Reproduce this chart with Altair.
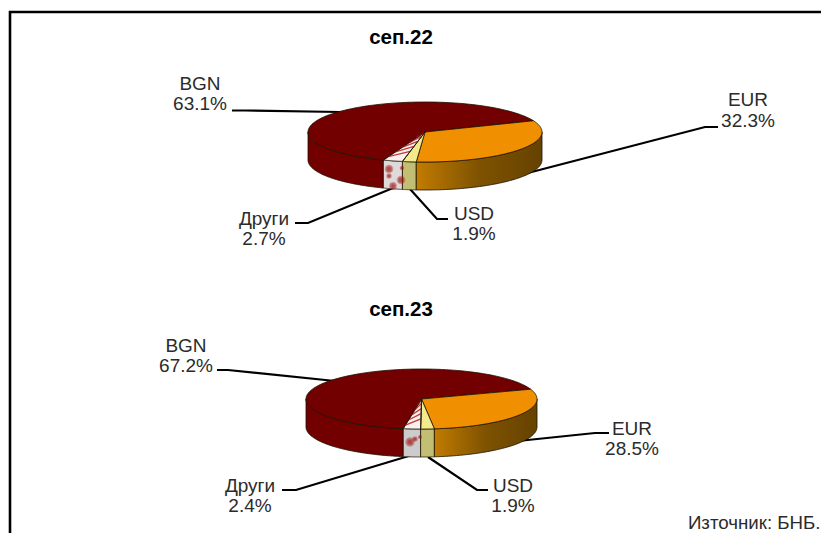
import numpy as np
import pandas as pd
import altair as alt

# ---- data ----
categories = ["EUR", "USD", "Други", "BGN"]
shares_sep22 = [32.3, 1.9, 2.7, 63.1]
shares_sep23 = [28.5, 1.9, 2.4, 67.2]
titles = ["сеп.22", "сеп.23"]
source_note = "Източник: БНБ."

# ---- layout (page pixels) ----
W, H = 821, 533
FONT = "Liberation Sans"
pies = [
    dict(vals=shares_sep22, cx=425, cy=132, rx=117, ry=30, depth=28, start=22, title_y=38,
         lab={"BGN": (200, 83.5), "EUR": (748, 100), "Други": (264, 218.5), "USD": (474, 213.5)},
         lead={"BGN": [(232, 110.5), (245, 110.5), (340, 112)],
               "EUR": [(718, 127), (705, 127), (520, 175)],
               "Други": [(295, 223), (308, 223), (393, 188)],
               "USD": [(448, 219), (437, 219), (410, 189)]},
         blots=[(389, 169, 34), (401, 180, 34), (393, 186, 28), (389, 176, 14), (402, 168, 10)]),
    dict(vals=shares_sep23, cx=421.5, cy=399, rx=115.5, ry=30, depth=28, start=19, title_y=310,
         lab={"BGN": (186, 345.5), "EUR": (632, 428.5), "Други": (250, 485.5), "USD": (513, 485.5)},
         lead={"BGN": [(217, 370), (228, 370), (335, 381)],
               "EUR": [(609, 433), (595, 433), (518, 441)],
               "Други": [(282, 490), (296, 490), (412, 455)],
               "USD": [(488, 490), (477, 490), (428, 457)]},
         blots=[(410, 442, 40), (415, 439, 14), (420, 437, 8)]),
]

TOP = {"EUR": "#F09000", "USD": "#F2EA8C", "Други": "#FBF0F0", "BGN": "#730000"}
SIDE = {"USD": "#C2BE74", "BGN": "#720000"}
OTHER_SIDE = ["#DEDADA", "#CCCCCC"]
EUR_SIDE = alt.LinearGradient(
    gradient="linear", x1=0, x2=1, y1=0, y2=0,
    stops=[alt.GradientStop(color="#C27C00", offset=0),
           alt.GradientStop(color="#7E5200", offset=0.5),
           alt.GradientStop(color="#664200", offset=1)])
TEXT = "#2B2B2B"

xs = alt.Scale(domain=[8, W], range=[0, W - 8])
ys = alt.Scale(domain=[8, H], range=[0, H - 8])
X = alt.X("x:Q", scale=xs, axis=None)
Y = alt.Y("y:Q", scale=ys, axis=None)


def ell(p, deg, dy=0.0):
    t = np.radians(deg)
    return p["cx"] + p["rx"] * np.cos(t), p["cy"] - p["ry"] * np.sin(t) + dy


def shape(points, fill, stroke="#1a1200", sw=0.8):
    pts = list(points) + [points[0]]
    df = pd.DataFrame({"x": [a for a, _ in pts], "y": [b for _, b in pts], "i": range(len(pts))})
    return alt.Chart(df).mark_line(fill=fill, stroke=stroke, strokeWidth=sw, interpolate="linear").encode(
        x=X, y=Y, order="i:Q")


def polyline(points, color="#000000", sw=2.2):
    df = pd.DataFrame({"x": [a for a, _ in points], "y": [b for _, b in points], "i": range(len(points))})
    return alt.Chart(df).mark_line(color=color, strokeWidth=sw, interpolate="linear").encode(
        x=X, y=Y, order="i:Q")


layers = []
# frame
layers.append(polyline([(10, H), (10, 12), (W, 12)], sw=2.6))

for n, p in enumerate(pies):
    bounds = {}
    a = p["start"]
    for c, v in zip(categories, p["vals"]):
        b = a - v * 3.6
        bounds[c] = (a, b)
        a = b

    # leader lines (under the pie)
    for c in categories:
        layers.append(polyline(p["lead"][c]))

    # side walls: only the front half (-180..0 degrees) shows
    for c in ["BGN", "Други", "USD", "EUR"]:
        a, b = bounds[c]
        hi, lo = min(a, 0), max(b, -180)
        ts = np.linspace(hi, lo, 60)
        up = [ell(p, t) for t in ts]
        dn = [ell(p, t, p["depth"]) for t in ts[::-1]]
        fill = EUR_SIDE if c == "EUR" else (OTHER_SIDE[n] if c == "Други" else SIDE[c])
        layers.append(shape(up + dn, fill))

    # soft texture blots on the side of "Други"
    for k in (2.2, 1.2, 0.5):
        bl = pd.DataFrame(p["blots"], columns=["x", "y", "s"])
        bl["s"] = bl["s"] * k
        layers.append(alt.Chart(bl).mark_circle(color="#A01010", opacity=0.33).encode(
            x=X, y=Y, size=alt.Size("s:Q", scale=None, legend=None)))

    # top faces
    apex = (p["cx"], p["cy"])
    for c in ["BGN", "EUR", "USD", "Други"]:
        a, b = bounds[c]
        ts = np.linspace(a, b, 120)
        layers.append(shape([apex] + [ell(p, t) for t in ts], TOP[c]))

    # hatch on top of "Други"
    a, b = bounds["Други"]
    P1, P2 = np.array(ell(p, a)), np.array(ell(p, b))
    A = np.array(apex)
    for f in np.arange(0.2, 1.0, 0.17):
        s = A + (P2 - A) * f
        e = A + (P1 - A) * max(f - 0.22, 0.02)
        layers.append(polyline([tuple(s), tuple(e)], color="#C23A3A", sw=1.3))

    layers.append(polyline([apex, ell(p, a)], color="#1a1200", sw=0.8))
    layers.append(polyline([apex, ell(p, b)], color="#1a1200", sw=0.8))

    # labels
    rows = []
    for c, v in zip(categories, p["vals"]):
        lx, ly = p["lab"][c]
        rows.append(dict(x=lx, y=ly, t=c))
        rows.append(dict(x=lx, y=ly + 20.5, t=f"{v}%"))
    layers.append(alt.Chart(pd.DataFrame(rows)).mark_text(font=FONT, fontSize=19, color=TEXT).encode(
        x=X, y=Y, text="t:N"))

    # title
    layers.append(alt.Chart(pd.DataFrame([dict(x=401, y=p["title_y"], t=titles[n])])).mark_text(
        font=FONT, fontSize=20.5, fontWeight="bold", color="#000000").encode(x=X, y=Y, text="t:N"))

# source
layers.append(alt.Chart(pd.DataFrame([dict(x=820.5, y=523, t=source_note)])).mark_text(
    font=FONT, fontSize=18.7, align="right", color=TEXT).encode(x=X, y=Y, text="t:N"))

chart = alt.layer(*layers).properties(
    width=W - 8, height=H - 8, padding=0, autosize=alt.AutoSizeParams(type="none"),
    background="#FFFFFF",
).configure_view(stroke=None)

chart.save("out.html", embed_options={"renderer": "svg", "actions": False})
